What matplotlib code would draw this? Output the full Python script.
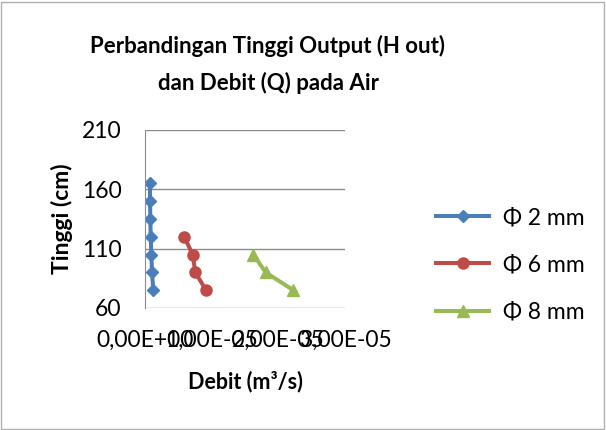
import numpy as np
import matplotlib.pyplot as plt
from matplotlib.patches import Rectangle

# Data
q_2mm = [7.5e-7, 7.5e-7, 8.0e-7, 8.5e-7, 9.5e-7, 1.05e-6, 1.25e-6]
h_2mm = [165, 150, 135, 120, 105, 90, 75]
q_6mm = [5.9e-6, 7.15e-6, 7.55e-6, 9.15e-6]
h_6mm = [120, 105, 90, 75]
q_8mm = [1.625e-5, 1.81e-5, 2.225e-5]
h_8mm = [105, 90, 75]

x_ticks = [0, 1e-5, 2e-5, 3e-5]
x_tick_labels = ['0,00E+00', '1,00E-05', '2,00E-05', '3,00E-05']
y_ticks = [60, 110, 160, 210]

plt.rcParams['font.family'] = ['Lato', 'DejaVu Sans']

fig = plt.figure(figsize=(6.06, 4.30), dpi=100)
W, H = 606, 430
ax = fig.add_axes([145 / W, 1 - 308 / H, 200 / W, 178 / H])

ax.plot(q_2mm, h_2mm, color='#4A7EBB', lw=2.9, marker='D', ms=6.5, label='Φ 2 mm')
ax.plot(q_6mm, h_6mm, color='#BE4B48', lw=2.9, marker='o', ms=8, label='Φ 6 mm')
ax.plot(q_8mm, h_8mm, color='#98B954', lw=2.9, marker='^', ms=9, label='Φ 8 mm')

ax.set_xlim(0, 3e-5)
ax.set_ylim(60, 210)
ax.set_xticks(x_ticks)
ax.set_xticklabels(x_tick_labels)
ax.set_yticks(y_ticks)
ax.tick_params(length=0, labelsize=16.5)
ax.tick_params(axis='y', pad=17)
ax.tick_params(axis='x', pad=16)
ax.grid(axis='y', color='#8c8c8c', lw=1)
ax.set_axisbelow(True)
for s in ['top', 'right', 'bottom']:
    ax.spines[s].set_visible(False)
ax.spines['left'].set_color('#8c8c8c')

ax.set_ylabel('Tinggi (cm)', fontsize=16.5, fontweight='bold', labelpad=6)
ax.set_xlabel('Debit (m³/s)', fontsize=15.5, fontweight='bold', labelpad=14)

fig.text(268 / W, 1 - 46 / H, 'Perbandingan Tinggi Output (H out)', ha='center', va='center',
         fontsize=16, fontweight='bold')
fig.text(268 / W, 1 - 83 / H, 'dan Debit (Q) pada Air', ha='center', va='center',
         fontsize=16, fontweight='bold')

ax.legend(loc='center left', bbox_to_anchor=(425 / W, 1 - 265 / H), bbox_transform=fig.transFigure,
          frameon=False, fontsize=16.5, handlelength=2.3, labelspacing=1.15, handletextpad=0.6,
          borderpad=0)

fig.add_artist(Rectangle((0.002, 0.003), 0.994, 0.993, transform=fig.transFigure,
                         fill=False, edgecolor='#b0b0b0', lw=1))

fig.savefig('out.png', dpi=100)
